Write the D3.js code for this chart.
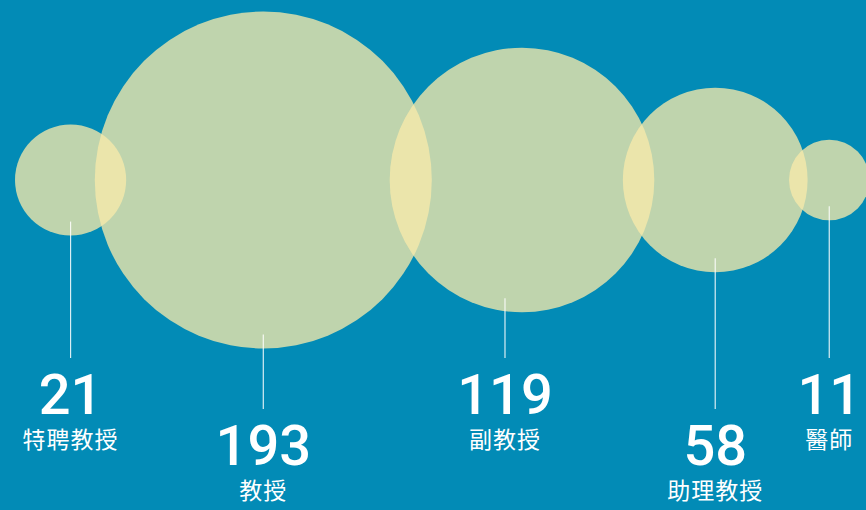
<!DOCTYPE html>
<html>
<head>
<meta charset="utf-8">
<script src="https://cdn.jsdelivr.net/npm/d3@7"></script>
<style>
  html, body { margin: 0; padding: 0; background: #028bb6; overflow: hidden; }
  svg { display: block; }
</style>
</head>
<body>
<div id="chart"></div>
<script>
// faculty counts by rank
const ranks = ["特聘教授", "教授", "副教授", "助理教授", "醫師"];
const counts = [21, 193, 119, 58, 11];

const width = 866;
const height = 510;
const cy = 180;
const overlap = 0.86;   // centre spacing as a share of the two radii
const leftPad = 15;

const svg = d3.select("#chart")
  .append("svg")
  .attr("width", width)
  .attr("height", height)
  .style("background", "#028bb6");

// area-true radius
const r = d3.scaleSqrt()
  .domain([0, d3.max(counts)])
  .range([0, 168.5]);

// place the circles side by side, a bit overlapping
let nodes = [];
let x = 0;
counts.forEach((v, i) => {
  const rad = r(v);
  if (i === 0) x = leftPad + rad;
  else x += overlap * (nodes[i - 1].r + rad);
  nodes.push({ name: ranks[i], value: v, r: rad, x: x, i: i });
});

// small label nudge seen in the original
const labelNudge = { "副教授": -17 };

svg.append("g")
  .selectAll("circle")
  .data(nodes)
  .enter()
  .append("circle")
  .attr("cx", d => d.x)
  .attr("cy", cy)
  .attr("r", d => d.r)
  .attr("fill", "rgb(248,234,170)")
  .attr("fill-opacity", 0.77);

// number baseline alternates up / down
const numY = d => d.i % 2 ? 465 : 414;
const lx = d => d.x + (labelNudge[d.name] || 0);

svg.append("g")
  .selectAll("line")
  .data(nodes)
  .enter()
  .append("line")
  .attr("x1", lx)
  .attr("x2", lx)
  .attr("y1", d => cy + d.r - 14)
  .attr("y2", d => numY(d) - 56)
  .attr("stroke", "#fff")
  .attr("stroke-opacity", 0.85)
  .attr("stroke-width", 1.2);

svg.append("g")
  .selectAll("text")
  .data(nodes)
  .enter()
  .append("text")
  .attr("x", lx)
  .attr("y", numY)
  .attr("text-anchor", "middle")
  .attr("fill", "#fff")
  .attr("font-family", "Roboto, sans-serif")
  .attr("font-weight", 500)
  .attr("font-size", "56px")
  .text(d => d.value);

svg.append("g")
  .selectAll("text")
  .data(nodes)
  .enter()
  .append("text")
  .attr("x", lx)
  .attr("y", d => numY(d) + 34)
  .attr("text-anchor", "middle")
  .attr("fill", "#fff")
  .attr("font-family", "'Noto Sans CJK TC', sans-serif")
  .attr("font-size", "23px")
  .attr("letter-spacing", "1px")
  .text(d => d.name);
</script>
</body>
</html>
